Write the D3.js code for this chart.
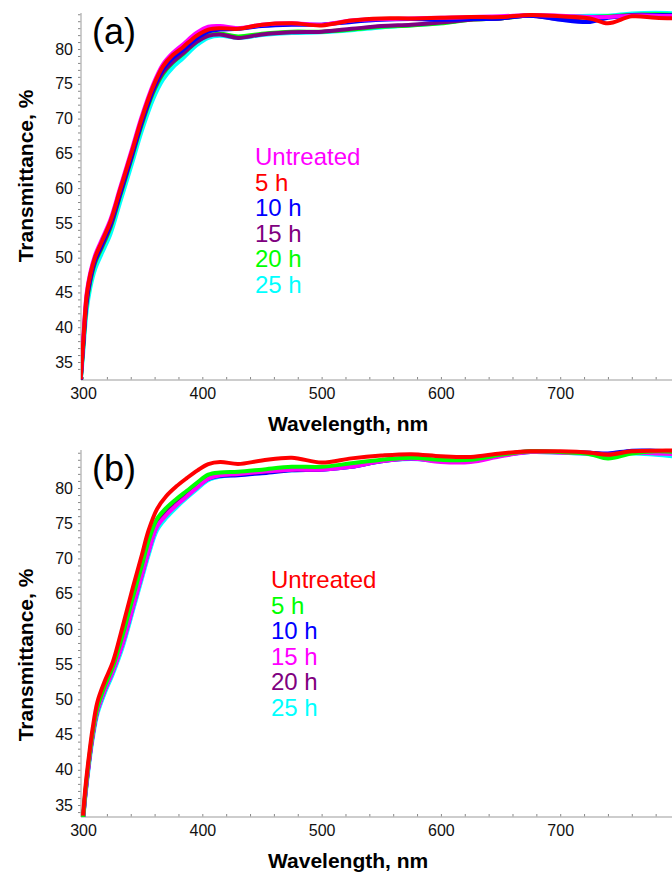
<!DOCTYPE html>
<html>
<head>
<meta charset="utf-8">
<script src="https://cdn.jsdelivr.net/npm/d3@7"></script>
<style>
  html, body { margin: 0; padding: 0; background: #fff; }
  svg { display: block; font-family: "Liberation Sans", Arial, sans-serif; }
</style>
</head>
<body>
<div id="chart"></div>
<script>
// wavelength grids (nm)
const wlA = [298, 300, 303, 306, 310, 316, 323, 331, 341, 349, 359, 367, 375, 384, 395, 405, 415, 430, 450, 475, 500, 525, 550, 575, 600, 625, 650, 675, 700, 725, 740, 760, 780, 800];
const wlB = [300, 302, 305, 308, 312, 318, 325, 333, 342, 349, 355, 362, 370, 378, 387, 396, 405, 415, 430, 450, 475, 500, 525, 550, 575, 600, 625, 650, 675, 700, 725, 740, 760, 780, 800];

// panel (a) transmittance, %
const aUntreated = [32.6, 37.8, 44.8, 47.8, 50.3, 52.7, 55.5, 60.0, 65.6, 70.2, 75.0, 77.8, 79.4, 80.7, 82.3, 83.2, 83.3, 83.0, 83.5, 83.7, 83.5, 84.1, 84.3, 84.4, 84.5, 84.6, 84.7, 84.9, 84.8, 84.6, 84.6, 84.8, 84.8, 84.7];
const a5h  = [32.5, 37.5, 44.5, 47.5, 50.0, 52.4, 55.2, 59.7, 65.3, 69.9, 74.7, 77.5, 79.1, 80.3, 81.9, 82.8, 83.0, 82.9, 83.5, 83.7, 83.4, 84.1, 84.4, 84.4, 84.5, 84.6, 84.6, 84.9, 84.7, 84.4, 83.7, 84.7, 84.5, 84.4];
const a10h = [32.4, 37.2, 44.0, 47.0, 49.6, 52.0, 54.8, 59.2, 64.8, 69.4, 74.3, 77.1, 78.7, 79.9, 81.5, 82.5, 82.8, 82.9, 83.3, 83.5, 83.5, 83.9, 84.2, 84.3, 84.2, 84.3, 84.4, 84.8, 84.2, 83.9, 84.5, 84.8, 84.9, 84.8];
const a15h = [32.3, 36.9, 43.5, 46.7, 49.4, 51.7, 54.5, 59.0, 64.6, 69.2, 74.0, 76.6, 78.1, 79.4, 81.0, 81.9, 82.1, 81.6, 82.1, 82.4, 82.5, 82.9, 83.3, 83.5, 83.8, 84.2, 84.4, 84.8, 84.3, 84.6, 84.6, 84.9, 84.9, 84.8];
const a20h = [32.3, 36.8, 43.3, 46.5, 49.2, 51.5, 54.3, 58.8, 64.4, 69.0, 73.8, 76.4, 78.0, 79.3, 81.0, 82.0, 82.2, 81.8, 82.2, 82.5, 82.5, 82.8, 83.2, 83.4, 83.7, 84.2, 84.4, 84.8, 84.4, 84.6, 84.7, 84.9, 85.0, 84.9];
const a25h = [32.0, 36.0, 42.3, 45.6, 48.3, 50.7, 53.4, 57.9, 63.5, 68.1, 72.9, 75.6, 77.3, 78.7, 80.5, 81.6, 81.9, 81.6, 82.0, 82.3, 82.4, 82.7, 83.1, 83.4, 83.7, 84.3, 84.5, 84.9, 84.7, 84.8, 84.8, 85.1, 85.2, 85.1];

// panel (b) transmittance, %
const bUntreated = [33.5, 37.5, 42.0, 45.8, 49.6, 52.5, 55.3, 60.2, 66.0, 70.3, 74.0, 77.0, 78.9, 80.2, 81.4, 82.5, 83.4, 83.7, 83.4, 83.9, 84.3, 83.6, 84.2, 84.6, 84.8, 84.5, 84.4, 84.9, 85.2, 85.2, 85.0, 84.7, 85.2, 85.3, 85.3];
const b5h  = [33.0, 37.0, 41.5, 45.2, 48.8, 51.8, 54.6, 59.0, 64.6, 68.8, 72.5, 75.6, 77.2, 78.4, 79.6, 80.8, 81.9, 82.2, 82.3, 82.6, 83.0, 83.0, 83.5, 84.0, 84.3, 84.0, 84.0, 84.7, 85.2, 85.1, 84.8, 84.2, 84.9, 85.2, 85.1];
const b10h = [32.8, 36.6, 41.1, 44.8, 48.4, 51.3, 54.1, 57.9, 63.3, 67.5, 71.1, 74.6, 76.3, 77.6, 78.9, 80.2, 81.3, 81.7, 81.8, 82.1, 82.5, 82.6, 83.0, 83.8, 84.2, 83.8, 83.9, 84.6, 85.1, 85.1, 85.0, 84.9, 85.3, 85.3, 85.2];
const b15h = [32.8, 36.5, 41.0, 44.7, 48.3, 51.2, 54.0, 57.8, 63.2, 67.4, 71.0, 74.5, 76.2, 77.5, 78.8, 80.1, 81.3, 81.8, 82.0, 82.3, 82.6, 82.6, 83.0, 83.8, 84.2, 83.7, 83.7, 84.5, 85.1, 85.0, 84.9, 84.7, 85.0, 84.9, 84.8];
const b20h = [32.9, 36.7, 41.2, 44.9, 48.5, 51.4, 54.2, 58.1, 63.6, 67.8, 71.4, 74.8, 76.5, 77.8, 79.1, 80.3, 81.4, 81.8, 82.0, 82.3, 82.6, 82.7, 83.1, 83.9, 84.3, 83.9, 83.9, 84.7, 85.2, 85.1, 85.0, 84.8, 85.2, 85.2, 85.1];
const b25h = [32.6, 36.2, 40.6, 44.3, 47.9, 50.8, 53.6, 57.3, 62.7, 66.9, 70.5, 74.0, 75.8, 77.2, 78.6, 79.9, 81.1, 81.6, 81.9, 82.2, 82.5, 82.6, 83.0, 83.8, 84.1, 83.8, 83.8, 84.6, 85.1, 85.0, 84.8, 84.6, 84.9, 84.7, 84.4];

const legendLabels = ["Untreated", "5 h", "10 h", "15 h", "20 h", "25 h"];
const legendColorsA = ["#ff00ff", "#ff0000", "#0000ff", "#800080", "#00ff00", "#00ffff"];
const legendColorsB = ["#ff0000", "#00ff00", "#0000ff", "#ff00ff", "#800080", "#00ffff"];

const xTicks = [300, 400, 500, 600, 700];
const yTicks = [35, 40, 45, 50, 55, 60, 65, 70, 75, 80];

const W = 672, H = 873;
const svg = d3.select("#chart").append("svg")
  .attr("width", W)
  .attr("height", H);

function drawPanel(p) {
  const x = d3.scaleLinear().domain([298.3, 793.7]).range([81, 672]);
  const y = d3.scaleLinear().domain(p.yDomain).range([p.bottom, p.top]);
  const g = svg.append("g");

  // clip to plot area
  g.append("clipPath").attr("id", "clip-" + p.id)
    .append("rect")
    .attr("x", 81).attr("y", p.top - 4)
    .attr("width", W - 81).attr("height", p.bottom - p.top + 4);

  // minor ticks
  g.append("g")
    .attr("transform", `translate(81,0)`)
    .call(d3.axisLeft(y).tickValues(d3.range(34, 86)).tickSize(3).tickFormat(""))
    .call(s => s.select(".domain").remove())
    .call(s => s.selectAll("line").attr("stroke", "#888"));
  g.append("g")
    .attr("transform", `translate(0,${p.bottom})`)
    .call(d3.axisTop(x).tickValues(d3.range(300, 800, 20)).tickSize(3).tickFormat(""))
    .call(s => s.select(".domain").remove())
    .call(s => s.selectAll("line").attr("stroke", "#888"));

  // axis lines
  g.append("line")
    .attr("x1", 81).attr("x2", 81).attr("y1", p.top).attr("y2", p.bottom)
    .attr("stroke", "#bdbdbd").attr("stroke-width", 1.5);
  g.append("line")
    .attr("x1", 81).attr("x2", W).attr("y1", p.bottom).attr("y2", p.bottom)
    .attr("stroke", "#bdbdbd").attr("stroke-width", 1.5);

  // tick labels
  g.append("g")
    .attr("transform", `translate(81,0)`)
    .call(d3.axisLeft(y).tickValues(yTicks).tickSize(0).tickPadding(8))
    .call(s => s.select(".domain").remove())
    .call(s => s.selectAll("text").attr("font-size", 16).attr("fill", "#111")
      .attr("font-family", "Liberation Sans, Arial, sans-serif"));
  g.append("g")
    .attr("transform", `translate(0,${p.bottom})`)
    .call(d3.axisBottom(x).tickValues(xTicks).tickSize(0).tickPadding(8))
    .call(s => s.select(".domain").remove())
    .call(s => s.selectAll("text").attr("font-size", 16).attr("fill", "#111")
      .attr("font-family", "Liberation Sans, Arial, sans-serif"));

  // curves
  const line = d3.line()
    .x((d, i) => x(p.wl[i]))
    .y(d => y(d))
    .curve(d3.curveCatmullRom.alpha(0.5));
  g.append("g").attr("clip-path", `url(#clip-${p.id})`)
    .selectAll("path")
    .data(p.order)
    .join("path")
    .attr("d", d => line(d.values))
    .attr("fill", "none")
    .attr("stroke", d => d.color)
    .attr("stroke-width", 4)
    .attr("stroke-linejoin", "round");

  // axis titles
  g.append("text")
    .attr("x", 268).attr("y", p.bottom + 51)
    .attr("font-size", 21).attr("font-weight", "bold")
    .text("Wavelength, nm");
  g.append("text")
    .attr("transform", `translate(33,${p.yTitle}) rotate(-90)`)
    .attr("text-anchor", "middle")
    .attr("font-size", 21).attr("font-weight", "bold")
    .text("Transmittance, %");

  // panel letter
  g.append("text")
    .attr("x", 92).attr("y", p.letterY)
    .attr("font-size", 36)
    .text(p.letter);

  // legend
  g.append("g")
    .selectAll("text")
    .data(legendLabels)
    .join("text")
    .attr("x", p.legendX)
    .attr("y", (d, i) => p.legendY + i * 25.6)
    .attr("font-size", 24)
    .attr("fill", (d, i) => p.legendColors[i])
    .text(d => d);
}

drawPanel({
  id: "a", letter: "(a)", letterY: 44, top: 13, bottom: 380,
  yDomain: [32.41, 85.18], wl: wlA, yTitle: 176,
  legendX: 255, legendY: 165, legendColors: legendColorsA,
  order: [
    { color: "#00ffff", values: a25h },
    { color: "#00ff00", values: a20h },
    { color: "#800080", values: a15h },
    { color: "#0000ff", values: a10h },
    { color: "#ff00ff", values: aUntreated },
    { color: "#ff0000", values: a5h }
  ]
});

drawPanel({
  id: "b", letter: "(b)", letterY: 481, top: 450, bottom: 817,
  yDomain: [33.3, 85.39], wl: wlB, yTitle: 655,
  legendX: 271, legendY: 588, legendColors: legendColorsB,
  order: [
    { color: "#00ffff", values: b25h },
    { color: "#0000ff", values: b10h },
    { color: "#800080", values: b20h },
    { color: "#ff00ff", values: b15h },
    { color: "#00ff00", values: b5h },
    { color: "#ff0000", values: bUntreated }
  ]
});
</script>
</body>
</html>
